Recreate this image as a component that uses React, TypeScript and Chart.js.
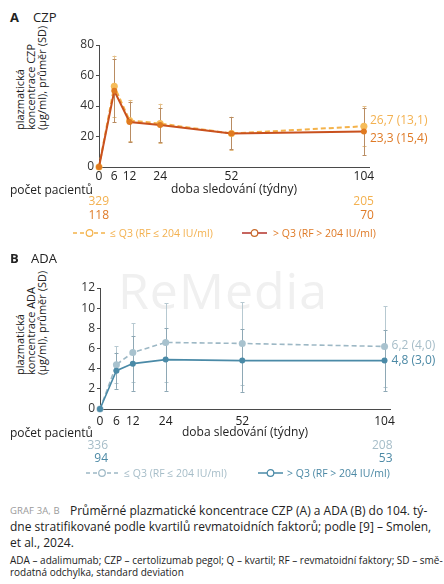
import React, { useEffect, useRef } from "react";
import { Chart, registerables } from "chart.js";

Chart.register(...registerables);

// ---------- data ----------
const weeks = [0, 6, 12, 24, 52, 104];
const xTickValues = [0, 6, 12, 24, 52, 104];
const countWeeks = [0, 104];

const czpLowMean = [0, 53, 30.5, 28.5, 22, 26.7];
const czpLowSD = [0, 20, 13.5, 13, 11, 13.1];
const czpHighMean = [0, 50, 29.5, 27.5, 22, 23.3];
const czpHighSD = [0, 20.5, 13, 11, 10.5, 15.4];
const czpLowN = [329, 205];
const czpHighN = [118, 70];
const czpEndLabels = ["26,7 (13,1)", "23,3 (15,4)"];

const adaLowMean = [0, 4.4, 5.6, 6.6, 6.5, 6.2];
const adaLowSD = [0, 1.8, 2.9, 3.9, 4.1, 4.0];
const adaHighMean = [0, 3.8, 4.5, 4.9, 4.8, 4.8];
const adaHighSD = [0, 1.8, 2.7, 3.1, 3.1, 3.0];
const adaLowN = [336, 208];
const adaHighN = [94, 53];
const adaEndLabels = ["6,2 (4,0)", "4,8 (3,0)"];

const legendLabels = ["≤ Q3 (RF ≤ 204 IU/ml)", "> Q3 (RF > 204 IU/ml)"];
const xTitle = "doba sledování (týdny)";

const FONT = "'Open Sans', 'Noto Sans', sans-serif";

// ---------- plugin ----------
const extrasPlugin = {
  id: "extras",
  beforeDatasetsDraw(chart: any) {
    const ctx = chart.ctx;
    const ys = chart.scales.y;
    chart.data.datasets.forEach((ds: any, di: number) => {
      const meta = chart.getDatasetMeta(di);
      ctx.save();
      ctx.strokeStyle = ds.errColor;
      ctx.lineWidth = 1;
      meta.data.forEach((pt: any, i: number) => {
        const s = ds.sd[i];
        if (!s) return;
        const m = ds.data[i].y;
        const yt = ys.getPixelForValue(m + s);
        const yb = ys.getPixelForValue(Math.max(m - s, 0));
        const x = Math.round(pt.x) + 0.5;
        ctx.beginPath();
        ctx.moveTo(x, yt);
        ctx.lineTo(x, yb);
        ctx.moveTo(x - 2, Math.round(yt) + 0.5);
        ctx.lineTo(x + 2, Math.round(yt) + 0.5);
        ctx.moveTo(x - 2, Math.round(yb) + 0.5);
        ctx.lineTo(x + 2, Math.round(yb) + 0.5);
        ctx.stroke();
      });
      ctx.restore();
    });
  },
  afterDatasetsDraw(chart: any) {
    const ctx = chart.ctx;
    const xs = chart.scales.x;
    chart.data.datasets.forEach((ds: any, di: number) => {
      const meta = chart.getDatasetMeta(di);
      const last = meta.data[meta.data.length - 1];
      ctx.save();
      ctx.font = `12px ${FONT}`;
      ctx.fillStyle = ds.textColor;
      ctx.textBaseline = "middle";
      ctx.textAlign = "left";
      ctx.fillText(ds.endLabel, last.x + ds.endDx, last.y + ds.endDy);
      ctx.textAlign = "right";
      ds.counts.forEach((n: number, k: number) => {
        ctx.fillText(String(n), xs.getPixelForValue(countWeeks[k]) + ds.countDx, ds.countY);
      });
      ctx.restore();
    });
  },
};

function makeSeries(mean: number[], sd: number[], o: any) {
  return {
    data: weeks.map((w, i) => ({ x: w, y: mean[i] })),
    sd,
    borderColor: o.line,
    borderWidth: o.width,
    borderDash: o.dash,
    pointRadius: o.radius,
    pointBackgroundColor: o.marker,
    pointBorderColor: o.marker,
    pointBorderWidth: 0,
    tension: 0,
    fill: false,
    clip: false,
    errColor: o.err,
    textColor: o.text,
    endLabel: o.endLabel,
    endDx: o.endDx,
    endDy: o.endDy,
    counts: o.counts,
    countDx: o.countDx,
    countY: o.countY,
    order: o.order,
  };
}

function makeConfig(p: any) {
  return {
    type: "line",
    data: { datasets: p.datasets },
    plugins: [extrasPlugin],
    options: {
      animation: false,
      responsive: false,
      maintainAspectRatio: false,
      layout: { padding: p.padding },
      plugins: { legend: { display: false }, tooltip: { enabled: false } },
      scales: {
        x: {
          type: "linear",
          min: 0,
          max: 106,
          afterFit: (s: any) => {
            s.height = p.xHeight;
          },
          afterBuildTicks: (s: any) => {
            s.ticks = xTickValues.map((v) => ({ value: v }));
          },
          grid: { display: false, drawTicks: false },
          border: { display: true, color: "#4a4a4a", width: 1 },
          ticks: {
            autoSkip: false,
            maxRotation: 0,
            padding: p.xTickPad,
            color: "#222",
            font: { size: 12, family: FONT },
          },
          title: {
            display: true,
            text: xTitle,
            color: "#222",
            font: { size: 12, family: FONT },
            padding: { top: 0, bottom: p.xTitlePad },
          },
        },
        y: {
          min: 0,
          max: p.yMax,
          afterFit: (s: any) => {
            s.width = p.yWidth;
          },
          grid: { display: true, drawOnChartArea: false, drawTicks: true, tickLength: 3, color: "#4a4a4a" },
          border: { display: true, color: "#4a4a4a", width: 1 },
          ticks: {
            stepSize: p.yStep,
            padding: 2,
            color: "#333",
            font: { size: 12, family: FONT },
          },
        },
      },
    },
  };
}

function ChartCanvas({ config, style, w, h }: any) {
  const ref = useRef<HTMLCanvasElement>(null);
  useEffect(() => {
    const c = new Chart(ref.current as HTMLCanvasElement, config);
    return () => c.destroy();
  }, []);
  return <canvas ref={ref} width={w} height={h} style={{ position: "absolute", width: w, height: h, ...style }} />;
}

function T({ x, y, size = 12, color = "#222", weight = 400, align = "left", children, style }: any) {
  const lh = Math.round(size * 1.3);
  const pos: any = { position: "absolute", top: y - lh / 2, lineHeight: lh + "px", fontSize: size, color, fontWeight: weight, whiteSpace: "pre", fontFamily: FONT };
  if (align === "left") pos.left = x;
  else if (align === "right") pos.right = 444 - x;
  else {
    pos.left = x;
    pos.transform = "translateX(-50%)";
  }
  return <div style={{ ...pos, ...style }}>{children}</div>;
}

function YTitle({ x, y, lines }: any) {
  return (
    <div
      style={{
        position: "absolute",
        left: 0,
        top: 0,
        transformOrigin: "0 0",
        transform: `translate(${x}px, ${y}px) rotate(-90deg)`,
        fontFamily: FONT,
        fontSize: 11,
        lineHeight: "11px",
        color: "#222",
        whiteSpace: "pre",
        textAlign: "left",
      }}
    >
      {lines.join("\n")}
    </div>
  );
}

function LegendSym({ x1, x2, y, color, circle, dashed }: any) {
  const w = x2 - x1;
  return (
    <svg style={{ position: "absolute", left: x1, top: y - 5 }} width={w} height={10}>
      <line x1={0} y1={5} x2={w} y2={5} stroke={color} strokeWidth={1.5} strokeDasharray={dashed ? "4 3" : undefined} />
      <circle cx={w / 2} cy={5} r={3.3} fill="#fff" stroke={circle} strokeWidth={1.2} />
    </svg>
  );
}

const C = {
  czpLight: "#F4B24A",
  czpLightText: "#F3B150",
  czpDark: "#C9511E",
  czpDarkMarker: "#E07A20",
  czpDarkText: "#DF7A26",
  adaLight: "#9DB8C5",
  adaLightText: "#A6BDC8",
  adaDark: "#4A8AA7",
  adaDarkText: "#4C89A5",
};

export default function App() {
  const cfgA = makeConfig({
    padding: { left: 0, right: 75, top: 15, bottom: 25 },
    xHeight: 38,
    xTickPad: 2,
    xTitlePad: 8,
    yWidth: 99,
    yMax: 80,
    yStep: 10,
    datasets: [
      makeSeries(czpLowMean, czpLowSD, {
        line: C.czpLight, width: 2, dash: [5, 3], radius: 3.5, marker: "#F6BC5A", err: "#E4BE86",
        text: C.czpLightText, endLabel: czpEndLabels[0], endDx: 6, endDy: -6, counts: czpLowN, countDx: 10, countY: 172, order: 2,
      }),
      makeSeries(czpHighMean, czpHighSD, {
        line: C.czpDark, width: 2, dash: [], radius: 3, marker: C.czpDarkMarker, err: "#B98C62",
        text: C.czpDarkText, endLabel: czpEndLabels[1], endDx: 6, endDy: 7, counts: czpHighN, countDx: 10, countY: 186, order: 1,
      }),
    ],
  });

  const cfgB = makeConfig({
    padding: { left: 0, right: 54, top: 18, bottom: 25 },
    xHeight: 36,
    xTickPad: 5,
    xTitlePad: 5,
    yWidth: 100,
    yMax: 12,
    yStep: 2,
    datasets: [
      makeSeries(adaLowMean, adaLowSD, {
        line: C.adaLight, width: 1.6, dash: [5, 3], radius: 3.5, marker: "#A8C2CE", err: "#B7C9D1",
        text: C.adaLightText, endLabel: adaEndLabels[0], endDx: 7, endDy: -1, counts: adaLowN, countDx: 8, countY: 176, order: 2,
      }),
      makeSeries(adaHighMean, adaHighSD, {
        line: C.adaDark, width: 1.6, dash: [], radius: 3, marker: C.adaDark, err: "#8EA8B5",
        text: C.adaDarkText, endLabel: adaEndLabels[1], endDx: 7, endDy: 0, counts: adaHighN, countDx: 8, countY: 189, order: 1,
      }),
    ],
  });

  return (
    <div style={{ position: "absolute", left: 0, top: 0, width: 444, height: 584, background: "#fff", overflow: "hidden", fontFamily: FONT }}>
      {/* watermark */}
      <div style={{ position: "absolute", left: 118, top: 262, fontSize: 50, color: "#f0f0f0", fontFamily: FONT, lineHeight: "56px", letterSpacing: 1 }}>ReMedia</div>

      {/* Panel A */}
      <T x={10} y={17} size={13} weight={700}>A</T>
      <T x={33} y={17} size={13}>CZP</T>
      <YTitle x={13.5} y={130} lines={["plazmatická", "koncentrace CZP", "(µg/ml), průměr (SD)"]} />
      <ChartCanvas config={cfgA} w={444} h={200} style={{ left: 0, top: 30 }} />
      <T x={10} y={190}>počet pacientů</T>
      <LegendSym x1={73} x2={106} y={233} color={C.czpLight} circle={C.czpLight} dashed />
      <T x={110} y={233} size={10.5} color={C.czpLightText}>{legendLabels[0]}</T>
      <LegendSym x1={242} x2={267} y={233} color="#B3322A" circle="#C86A2A" />
      <T x={273} y={233} size={10.5} color={C.czpDarkText}>{legendLabels[1]}</T>

      {/* Panel B */}
      <T x={10} y={258} size={13} weight={700}>B</T>
      <T x={31} y={258} size={13}>ADA</T>
      <YTitle x={13.5} y={375} lines={["plazmatická", "koncentrace ADA", "(µg/ml), průměr (SD)"]} />
      <ChartCanvas config={cfgB} w={444} h={200} style={{ left: 0, top: 270 }} />
      <T x={10} y={433}>počet pacientů</T>
      <LegendSym x1={86} x2={118} y={473} color={C.adaLight} circle={C.adaLight} dashed />
      <T x={124} y={473} size={10.5} color={C.adaLightText}>{legendLabels[0]}</T>
      <LegendSym x1={258} x2={283} y={473} color={C.adaDark} circle={C.adaDark} />
      <T x={287} y={473} size={10.5} color={C.adaDarkText}>{legendLabels[1]}</T>

      {/* Caption */}
      <T x={10} y={511} size={9.5} color="#9a9a9a" style={{ letterSpacing: 0.1 }}>GRAF 3A, B</T>
      <T x={70} y={511} size={12} weight={500}>Průměrné plazmatické koncentrace CZP (A) a ADA (B) do 104. tý-</T>
      <T x={10} y={527} size={12} weight={500}>dne stratifikované podle kvartilů revmatoidních faktorů; podle [9] – Smolen,</T>
      <T x={10} y={543} size={12} weight={500}>et al., 2024.</T>
      <T x={10} y={560} size={10}>ADA – adalimumab; CZP – certolizumab pegol; Q – kvartil; RF – revmatoidní faktory; SD – smě-</T>
      <T x={10} y={572} size={10}>rodatná odchylka, standard deviation</T>
    </div>
  );
}
